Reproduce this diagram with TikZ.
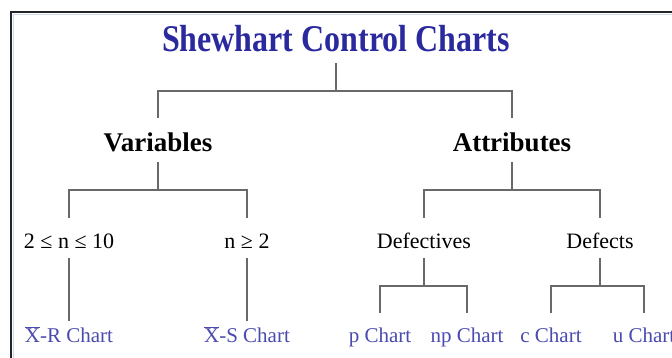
\documentclass[tikz,border=0pt]{standalone}
\usepackage{fontspec}
\usepackage{graphicx}
\setmainfont{Liberation Serif}
\usetikzlibrary{backgrounds}

\definecolor{titleblue}{RGB}{42,42,158}
\definecolor{chartblue}{RGB}{74,74,176}
\definecolor{linegray}{RGB}{105,105,105}
\definecolor{framedark}{RGB}{35,35,40}
\definecolor{framelight}{RGB}{205,218,240}

\begin{document}
\begin{tikzpicture}[x=1pt, y=-1pt,
  every node/.style={inner sep=0pt, anchor=base, text depth=0pt},
  heading/.style={font=\bfseries\fontsize{27}{27}\selectfont, text height=17pt},
  cond/.style={font=\fontsize{22}{22}\selectfont, text height=16pt},
  leaf/.style={font=\fontsize{21}{21}\selectfont, text=chartblue, text height=15pt},
  branch/.style={draw=linegray, line width=1.2pt}]
  \useasboundingbox (0,0) rectangle (672,358);
  \fill[white] (0,0) rectangle (672,358);
  \draw[line width=2pt, framedark] (11,12) rectangle (700,400);
  \draw[line width=1pt, framelight] (13.5,14.5) rectangle (700,400);

  % labels
  \node[font=\bfseries\fontsize{32}{32}\selectfont, text=titleblue] (title) at (336,52)
    {\scalebox{1}[1.18]{Shewhart Control Charts}};
  \node[heading] (var) at (158,152) {Variables};
  \node[heading] (attr) at (512,152) {Attributes};
  \node[cond] (le10) at (69,248) {2 ≤ n ≤ 10};
  \node[cond] (ge2) at (247,248) {n ≥ 2};
  \node[cond] (defv) at (424,248) {Defectives};
  \node[cond] (defc) at (600,248) {Defects};
  \node[leaf] (xr) at (69,342) {$\overline{\mbox{X}}$-R Chart};
  \node[leaf] (xs) at (247,342) {$\overline{\mbox{X}}$-S Chart};
  \node[leaf] (pc) at (380,342) {p Chart};
  \node[leaf] (npc) at (467,342) {np Chart};
  \node[leaf] (cc) at (551,342) {c Chart};
  \node[leaf] (uc) at (644,342) {u Chart};

  % forks
  \coordinate (f0) at (336,91);
  \coordinate (f1) at (158,190);
  \coordinate (f2) at (512,190);
  \coordinate (f3) at (424,286);
  \coordinate (f4) at (600,286);

  \draw[branch, shorten <=11pt] (title.south) -- (f0);
  \draw[branch, shorten <=17pt, shorten >=17pt] (var.north) |- (f0) -| (attr.north);

  \foreach \p/\f in {var/f1, attr/f2}
    \draw[branch, shorten <=10pt] (\p.south) -- (\f);
  \draw[branch, shorten <=14pt, shorten >=14pt] (le10.north) |- (f1) -| (ge2.north);
  \draw[branch, shorten <=14pt, shorten >=14pt] (defv.north) |- (f2) -| (defc.north);

  \foreach \a/\b in {le10/xr, ge2/xs}
    \draw[branch, shorten <=10pt, shorten >=6pt] (\a.south) -- (\b.north);

  \foreach \p/\f in {defv/f3, defc/f4}
    \draw[branch, shorten <=10pt] (\p.south) -- (\f);
  \draw[branch, shorten <=14pt, shorten >=14pt] (pc.north) |- (f3) -| (npc.north);
  \draw[branch, shorten <=14pt, shorten >=14pt] (cc.north) |- (f4) -| (uc.north);
\end{tikzpicture}
\end{document}
